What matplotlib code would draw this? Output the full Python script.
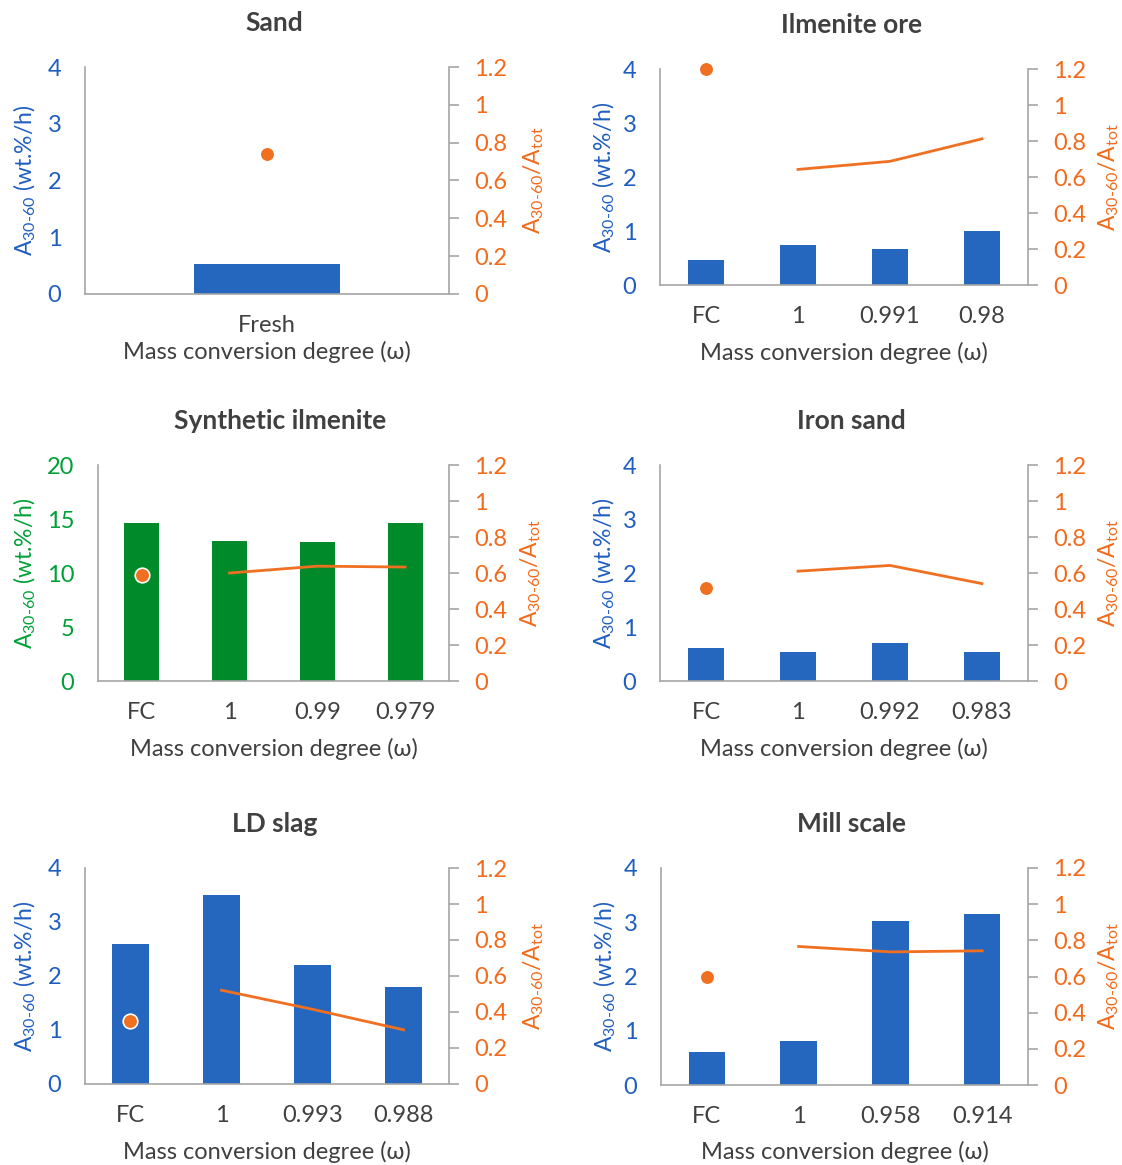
# Six twin-axis panels: A30-60 bars (left axis) with A30-60/Atot ratio (right axis)

import matplotlib
matplotlib.use('Agg')
import matplotlib.pyplot as plt

plt.rcParams['font.family'] = ['Lato', 'DejaVu Sans']
plt.rcParams['mathtext.fontset'] = 'custom'
plt.rcParams['mathtext.rm'] = 'Lato'
plt.rcParams['mathtext.it'] = 'Lato'

# data
titles = ['Sand', 'Ilmenite ore', 'Synthetic ilmenite', 'Iron sand', 'LD slag', 'Mill scale']

sand_cats = ['Fresh']
sand_rate = [0.53]
sand_ratio_fc = 0.74
sand_ratio_line = []

ilm_cats = ['FC', '1', '0.991', '0.98']
ilm_rate = [0.47, 0.74, 0.67, 1.0]
ilm_ratio_fc = 1.2
ilm_ratio_line = [0.642, 0.687, 0.812]

syn_cats = ['FC', '1', '0.99', '0.979']
syn_rate = [14.65, 12.95, 12.85, 14.65]
syn_ratio_fc = 0.59
syn_ratio_line = [0.60, 0.638, 0.633]

iron_cats = ['FC', '1', '0.992', '0.983']
iron_rate = [0.62, 0.54, 0.70, 0.54]
iron_ratio_fc = 0.515
iron_ratio_line = [0.61, 0.642, 0.541]

ld_cats = ['FC', '1', '0.993', '0.988']
ld_rate = [2.60, 3.50, 2.21, 1.79]
ld_ratio_fc = 0.352
ld_ratio_line = [0.521, 0.415, 0.301]

mill_cats = ['FC', '1', '0.958', '0.914']
mill_rate = [0.61, 0.82, 3.02, 3.15]
mill_ratio_fc = 0.597
mill_ratio_line = [0.766, 0.736, 0.742]

left_ticks_4 = [0, 1, 2, 3, 4]
left_ticks_20 = [0, 5, 10, 15, 20]
right_ticks = [0, 0.2, 0.4, 0.6, 0.8, 1.0, 1.2]
right_tick_labels = ['0', '0.2', '0.4', '0.6', '0.8', '1', '1.2']

BLUE_BAR = '#2566BF'
BLUE_TXT = '#1F5EC0'
GREEN_BAR = '#008A29'
GREEN_TXT = '#00A037'
ORANGE = '#F07022'
ORANGE_TXT = '#F26A1B'
GREY = '#A6A6A6'
DARK = '#404040'

W, H = 1122, 1165
fig = plt.figure(figsize=(W / 100, H / 100), dpi=100)


def px_axes(x0, x1, ytop, ybot):
    # axes from pixel box of the reference
    return fig.add_axes([x0 / W, 1 - ybot / H, (x1 - x0) / W, (ybot - ytop) / H])


def draw_panel(ax, title, cats, rate, ratio_fc, ratio_line, bar_color, txt_color, yticks,
               lab_l, lab_r, lab_x):
    x = list(range(len(cats)))
    ax.bar(x, rate, width=0.4, color=bar_color, zorder=2)
    ax.set_xlim(-0.5, len(cats) - 0.5)
    ax.set_ylim(yticks[0], yticks[-1])
    ax.set_yticks(yticks)
    ax.set_xticks(x)
    ax.set_xticklabels(cats)
    ax.tick_params(axis='x', length=0, pad=15, labelsize=17, labelcolor=DARK)
    ax.tick_params(axis='y', length=0, pad=17, labelsize=17, labelcolor=txt_color)
    for s in ['top', 'right']:
        ax.spines[s].set_visible(False)
    for s in ['left', 'bottom']:
        ax.spines[s].set_color(GREY)
        ax.spines[s].set_linewidth(1.2)
    ax.set_xlabel('Mass conversion degree (ω)', fontsize=17, color=DARK, va='center')
    ax.xaxis.set_label_coords(0.5, lab_x)
    ax.set_ylabel(r'A$_{\mathrm{30\text{-}60}}$ (wt.%/h)', fontsize=16.5, color=txt_color)
    ax.yaxis.set_label_coords(lab_l, 0.5)
    ax.set_title(title, fontsize=19, fontweight='bold', color=DARK, pad=26, x=0.52)

    ax2 = ax.twinx()
    ax2.set_ylim(0, 1.2)
    ax2.set_yticks(right_ticks)
    ax2.set_yticklabels(right_tick_labels)
    ax2.tick_params(axis='y', length=7, width=1.2, color=GREY, pad=11, labelsize=17,
                    labelcolor=ORANGE_TXT)
    for s in ['top', 'left', 'bottom']:
        ax2.spines[s].set_visible(False)
    ax2.spines['right'].set_color(GREY)
    ax2.spines['right'].set_linewidth(1.2)
    ax2.set_ylabel(r'A$_{\mathrm{30\text{-}60}}$/A$_{\mathrm{tot}}$', fontsize=16.5, color=ORANGE_TXT)
    ax2.yaxis.set_label_coords(lab_r, 0.5)
    ax2.plot([0], [ratio_fc], 'o', color=ORANGE, markersize=10.5,
             markeredgecolor='white', markeredgewidth=1.2, zorder=4, clip_on=False)
    if ratio_line:
        ax2.plot(x[1:], ratio_line, color=ORANGE, linewidth=2.0, zorder=3)


panels = [
    (px_axes(85, 449, 67, 294), titles[0], sand_cats, sand_rate, sand_ratio_fc, sand_ratio_line,
     BLUE_BAR, BLUE_TXT, left_ticks_4, -0.129, 1.198, -58 / 227),
    (px_axes(660, 1028, 69, 285), titles[1], ilm_cats, ilm_rate, ilm_ratio_fc, ilm_ratio_line,
     BLUE_BAR, BLUE_TXT, left_ticks_4, -0.117, 1.186, -68 / 216),
    (px_axes(98, 449, 465, 681), titles[2], syn_cats, syn_rate, syn_ratio_fc, syn_ratio_line,
     GREEN_BAR, GREEN_TXT, left_ticks_20, -0.171, 1.198, -68 / 216),
    (px_axes(660, 1028, 465, 681), titles[3], iron_cats, iron_rate, iron_ratio_fc, iron_ratio_line,
     BLUE_BAR, BLUE_TXT, left_ticks_4, -0.117, 1.186, -68 / 216),
    (px_axes(85, 449, 868, 1084), titles[4], ld_cats, ld_rate, ld_ratio_fc, ld_ratio_line,
     BLUE_BAR, BLUE_TXT, left_ticks_4, -0.129, 1.198, -68 / 216),
    (px_axes(661, 1028, 868, 1085), titles[5], mill_cats, mill_rate, mill_ratio_fc, mill_ratio_line,
     BLUE_BAR, BLUE_TXT, left_ticks_4, -0.117, 1.186, -67 / 217),
]

for p in panels:
    draw_panel(*p)

fig.savefig('out.png', dpi=100)
